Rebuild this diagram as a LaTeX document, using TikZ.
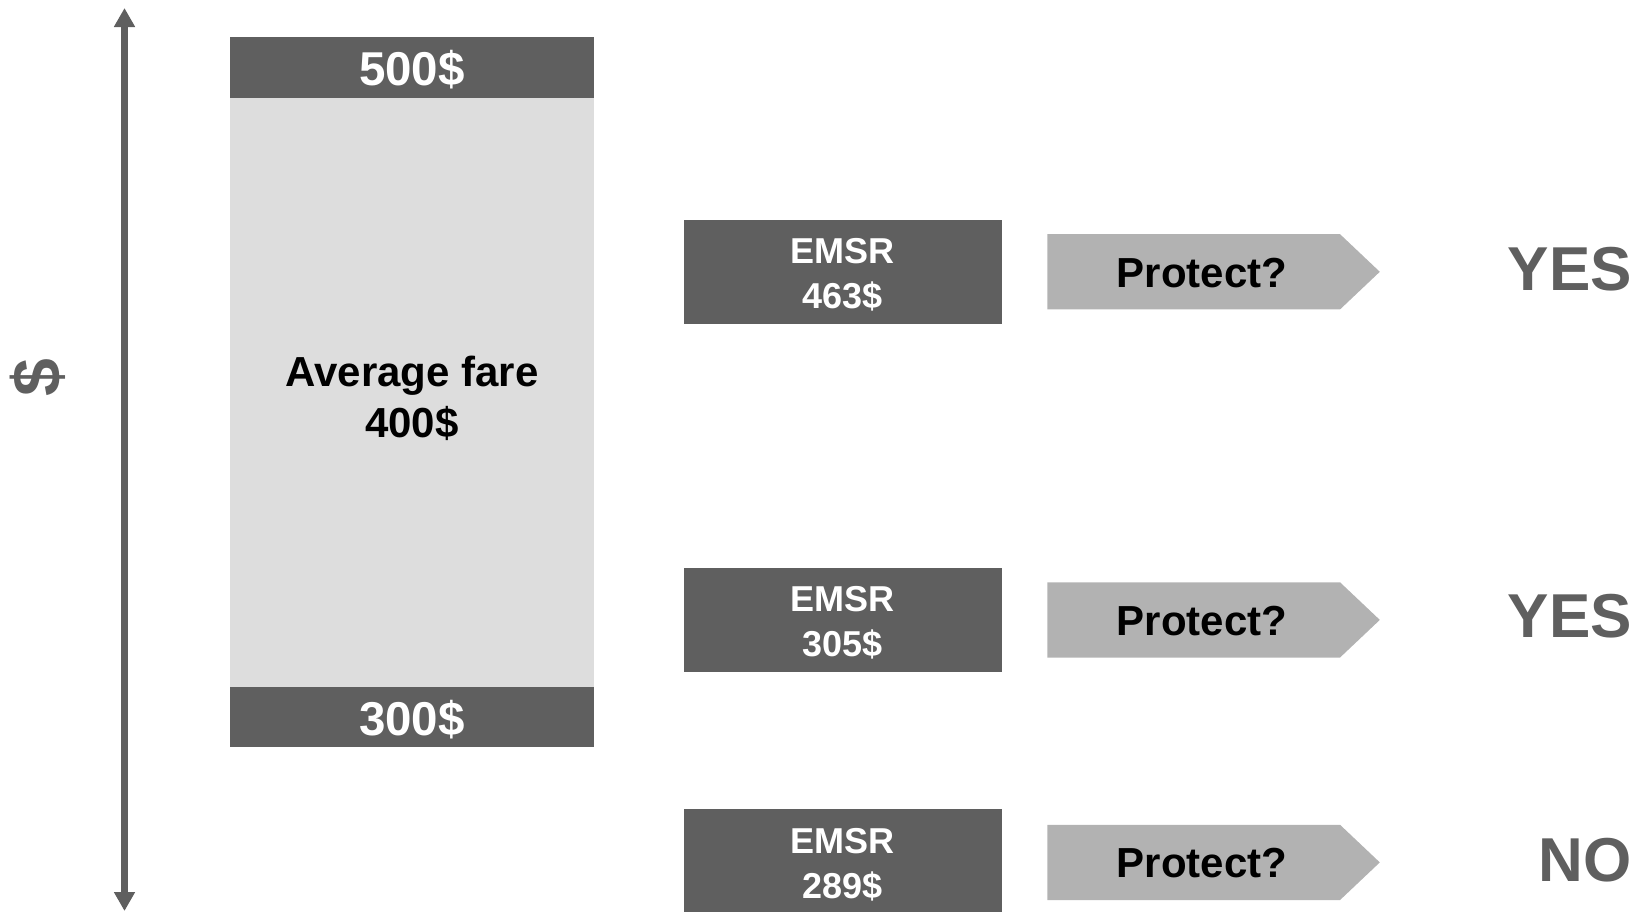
\documentclass[tikz,border=0pt]{standalone}
\usepackage{fontspec}
\setmainfont{Liberation Sans}
\usetikzlibrary{arrows.meta}
\definecolor{dk}{HTML}{5F5F5F}
\definecolor{lt}{HTML}{DDDDDD}
\definecolor{ar}{HTML}{B2B2B2}
\tikzset{
  darkbox/.style={fill=dk, draw=none, inner sep=0pt},
  lightbox/.style={fill=lt, draw=none, inner sep=0pt},
  whitetext/.style={inner sep=0pt, text=white, align=center},
  emsrbox/.style={darkbox, minimum width=318pt, minimum height=104.5pt},
  emsrtext/.style={whitetext, font=\bfseries\fontsize{36}{45}\selectfont},
  protectshape/.style={fill=ar, draw=none},
  protecttext/.style={inner sep=0pt, text=black, font=\bfseries\fontsize{42}{50}\selectfont},
  answer/.style={inner sep=0pt, anchor=east, text=dk, font=\bfseries\fontsize{62}{70}\selectfont},
  axisline/.style={draw=dk, line width=7pt, {Triangle[width=20pt,length=19pt]}-{Triangle[width=20pt,length=19pt]}}
}
\begin{document}
\begin{tikzpicture}[x=1pt,y=-1pt]
\useasboundingbox (0,0) rectangle (1639,911);

% axis
\coordinate (axtop) at (124.5,8);
\coordinate (axbot) at (124.5,911);
\draw[axisline] (axbot) -- (axtop);
\node[rotate=90, inner sep=0pt, text=dk, font=\bfseries\fontsize{68}{70}\selectfont] (dollar) at (38,378) {\$};

% big fare box
\node[lightbox, minimum width=364pt, minimum height=589pt] (avg) at (412,392.5) {};
\node[darkbox, minimum width=364pt, minimum height=61pt] (top) at (412,67.5) {};
\node[darkbox, minimum width=364pt, minimum height=60pt] (bot) at (412,717) {};
\node[inner sep=0pt, align=center, text=black, font=\bfseries\fontsize{42}{51}\selectfont] (avgt) at (412,398) {Average fare\\400\$};
\node[whitetext, font=\bfseries\fontsize{47.5}{55}\selectfont] (topt) at (412,70) {500\$};
\node[whitetext, font=\bfseries\fontsize{47.5}{55}\selectfont] (bott) at (412,720) {300\$};

% EMSR boxes
\node[emsrbox] (e1) at (842.5,271.8) {};
\node[emsrbox] (e2) at (842.5,619.9) {};
\node[emsrbox] (e3) at (842.5,861.3) {};
\node[emsrtext] (e1t) at (842.5,275) {EMSR\\463\$};
\node[emsrtext] (e2t) at (842.5,623) {EMSR\\305\$};
\node[emsrtext] (e3t) at (842.5,864.5) {EMSR\\289\$};

% Protect arrows
\foreach \m/\n in {271.8/p1, 619.9/p2, 862.4/p3}{
  \fill[protectshape] (1047.4,\m-37.65) -- (1340,\m-37.65) -- (1379.8,\m) -- (1340,\m+37.65) -- (1047.4,\m+37.65) -- cycle;
  \node[protecttext] (\n) at (1202,\m+1) {Protect?};
}

% answers
\node[answer] (a1) at (1632,269) {YES};
\node[answer] (a2) at (1632,616) {YES};
\node[answer] (a3) at (1631.5,860) {NO};
\end{tikzpicture}
\end{document}
